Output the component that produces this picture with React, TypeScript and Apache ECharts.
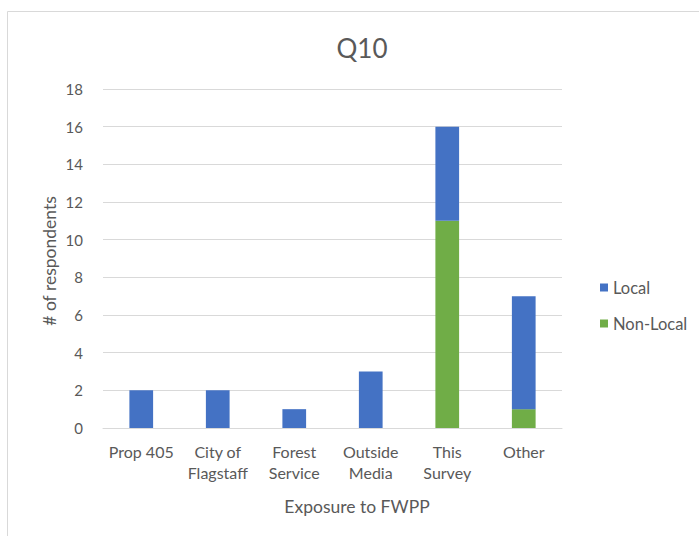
import React, { useEffect, useRef } from "react";
import * as echarts from "echarts";

const categories = ["Prop 405", "City of\nFlagstaff", "Forest\nService", "Outside\nMedia", "This\nSurvey", "Other"];
const nonLocal = [0, 0, 0, 0, 11, 1];
const local = [2, 2, 1, 3, 5, 6];
const yTicks = { min: 0, max: 18, interval: 2 };

const FONT = "Lato, 'Open Sans', sans-serif";
const TXT = "#595959";

export default function App() {
  const ref = useRef<HTMLDivElement>(null);
  useEffect(() => {
    const chart = echarts.init(ref.current!, null, { renderer: "svg" });
    chart.setOption({
      animation: false,
      backgroundColor: "#ffffff",
      textStyle: { fontFamily: FONT },
      title: {
        text: "Q10",
        left: 357,
        top: 30,
        textAlign: "center",
        textStyle: { fontSize: 26, fontWeight: "normal", color: TXT, fontFamily: FONT },
      },
      graphic: [
        {
          type: "rect",
          shape: { x: 7.5, y: 11.5, width: 720, height: 560 },
          style: { fill: "none", stroke: "#D9D9D9", lineWidth: 1 },
          silent: true,
        },
        {
          type: "text",
          x: 357,
          y: 506,
          style: { text: "Exposure to FWPP", fill: TXT, font: `17.5px ${FONT}`, textAlign: "center", textVerticalAlign: "middle" },
        },
        {
          type: "text",
          x: 49,
          y: 261,
          rotation: Math.PI / 2,
          style: { text: "# of respondents", fill: TXT, font: `17.5px ${FONT}`, textAlign: "center", textVerticalAlign: "middle" },
        },
      ],
      legend: {
        orient: "vertical",
        left: 595,
        top: 274,
        itemWidth: 8,
        itemHeight: 8,
        itemGap: 19,
        icon: "rect",
        textStyle: { fontSize: 16.5, color: TXT, fontFamily: FONT },
        data: ["Local", "Non-Local"],
      },
      grid: { left: 103, right: 137, top: 89, bottom: 108 },
      xAxis: {
        type: "category",
        data: categories,
        axisLine: { lineStyle: { color: "#D9D9D9" } },
        axisTick: { show: false },
        axisLabel: { color: TXT, fontSize: 16, lineHeight: 21, margin: 13, interval: 0, fontFamily: FONT },
      },
      yAxis: {
        type: "value",
        min: yTicks.min,
        max: yTicks.max,
        interval: yTicks.interval,
        axisLine: { show: false },
        axisTick: { show: false },
        axisLabel: { color: TXT, fontSize: 15, margin: 20, fontFamily: FONT },
        splitLine: { lineStyle: { color: "#D9D9D9" } },
      },
      series: [
        {
          name: "Non-Local",
          type: "bar",
          stack: "total",
          data: nonLocal,
          barWidth: "31%",
          itemStyle: { color: "#70AD47" },
        },
        {
          name: "Local",
          type: "bar",
          stack: "total",
          data: local,
          barWidth: "31%",
          itemStyle: { color: "#4472C4" },
        },
      ],
    });
    return () => chart.dispose();
  }, []);
  return <div ref={ref} style={{ position: "fixed", left: 0, top: 0, width: 699, height: 536 }} />;
}
